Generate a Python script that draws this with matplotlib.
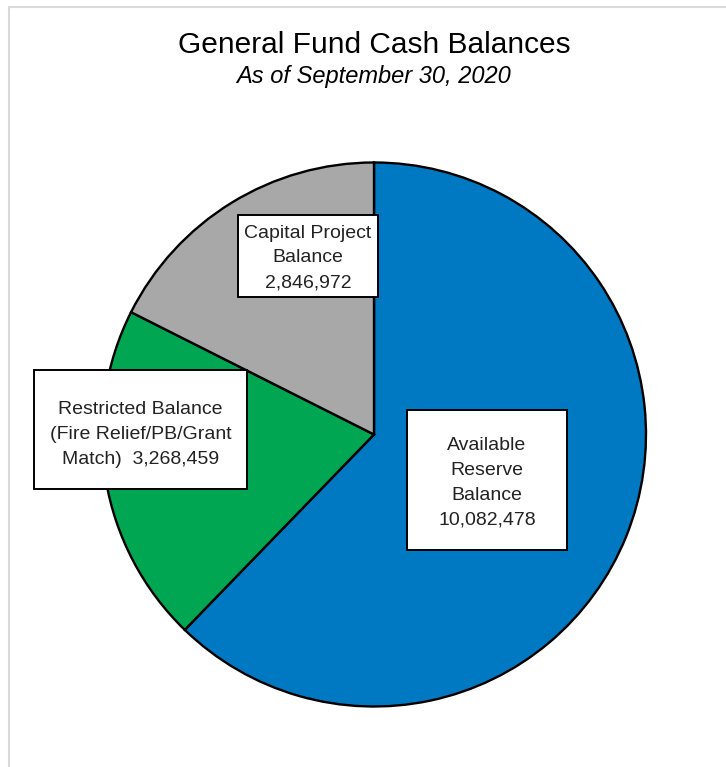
import matplotlib.pyplot as plt
from matplotlib.patches import Rectangle

# data
categories = ['Available Reserve Balance', 'Restricted Balance', 'Capital Project Balance']
balances = [10082478, 3268459, 2846972]
colors = ['#0079c2', '#00a651', '#a8a8a8']

# label text and box placement (pixels: x0, y0 top, x1, y1 bottom)
label_lines = [
    ['Available', 'Reserve', 'Balance', f'{balances[0]:,}'],
    ['Restricted Balance', '(Fire Relief/PB/Grant', f'Match)  {balances[1]:,}'],
    ['Capital Project', 'Balance', f'{balances[2]:,}'],
]
label_boxes = [(407, 410, 567, 550), (34, 370, 247, 489), (238, 215, 378, 297)]
text_shift = [4, 6, 3]  # text sits a little below box centre

W, H = 726, 767
plt.rcParams['font.family'] = ['Liberation Sans', 'DejaVu Sans']

fig = plt.figure(figsize=(W / 100, H / 100), dpi=100)
ax = fig.add_axes([0, 0, 1, 1])

# faint outer frame
ax.add_patch(Rectangle((8.5, -10), W, H - 6.5 + 10, fill=False,
                       edgecolor='#d9d9d9', linewidth=1.5))

cx, cy, r = 374, H - 434.5, 272
ax.pie(balances, colors=colors, startangle=90, counterclock=False,
       center=(cx, cy), radius=r, frame=True,
       wedgeprops=dict(edgecolor='black', linewidth=1.7))
ax.set_xlim(0, W)
ax.set_ylim(0, H)
ax.set_aspect('equal')
ax.axis('off')

for lines, (x0, y0, x1, y1), dy in zip(label_lines, label_boxes, text_shift):
    ax.add_patch(Rectangle((x0, H - y1), x1 - x0, y1 - y0, facecolor='white',
                           edgecolor='black', linewidth=1.4, zorder=5))
    ax.text((x0 + x1) / 2, H - (y0 + y1) / 2 + 1 - dy, '\n'.join(lines), ha='center',
            va='center', fontsize=14, linespacing=1.6, color='#222222', zorder=6)

ax.text(374, H - 45, 'General Fund Cash Balances', ha='center', va='center',
        fontsize=21.5, color='black')
ax.text(374, H - 77, 'As of September 30, 2020', ha='center', va='center',
        fontsize=17, style='italic', color='black')

fig.savefig('out.png', dpi=100)
